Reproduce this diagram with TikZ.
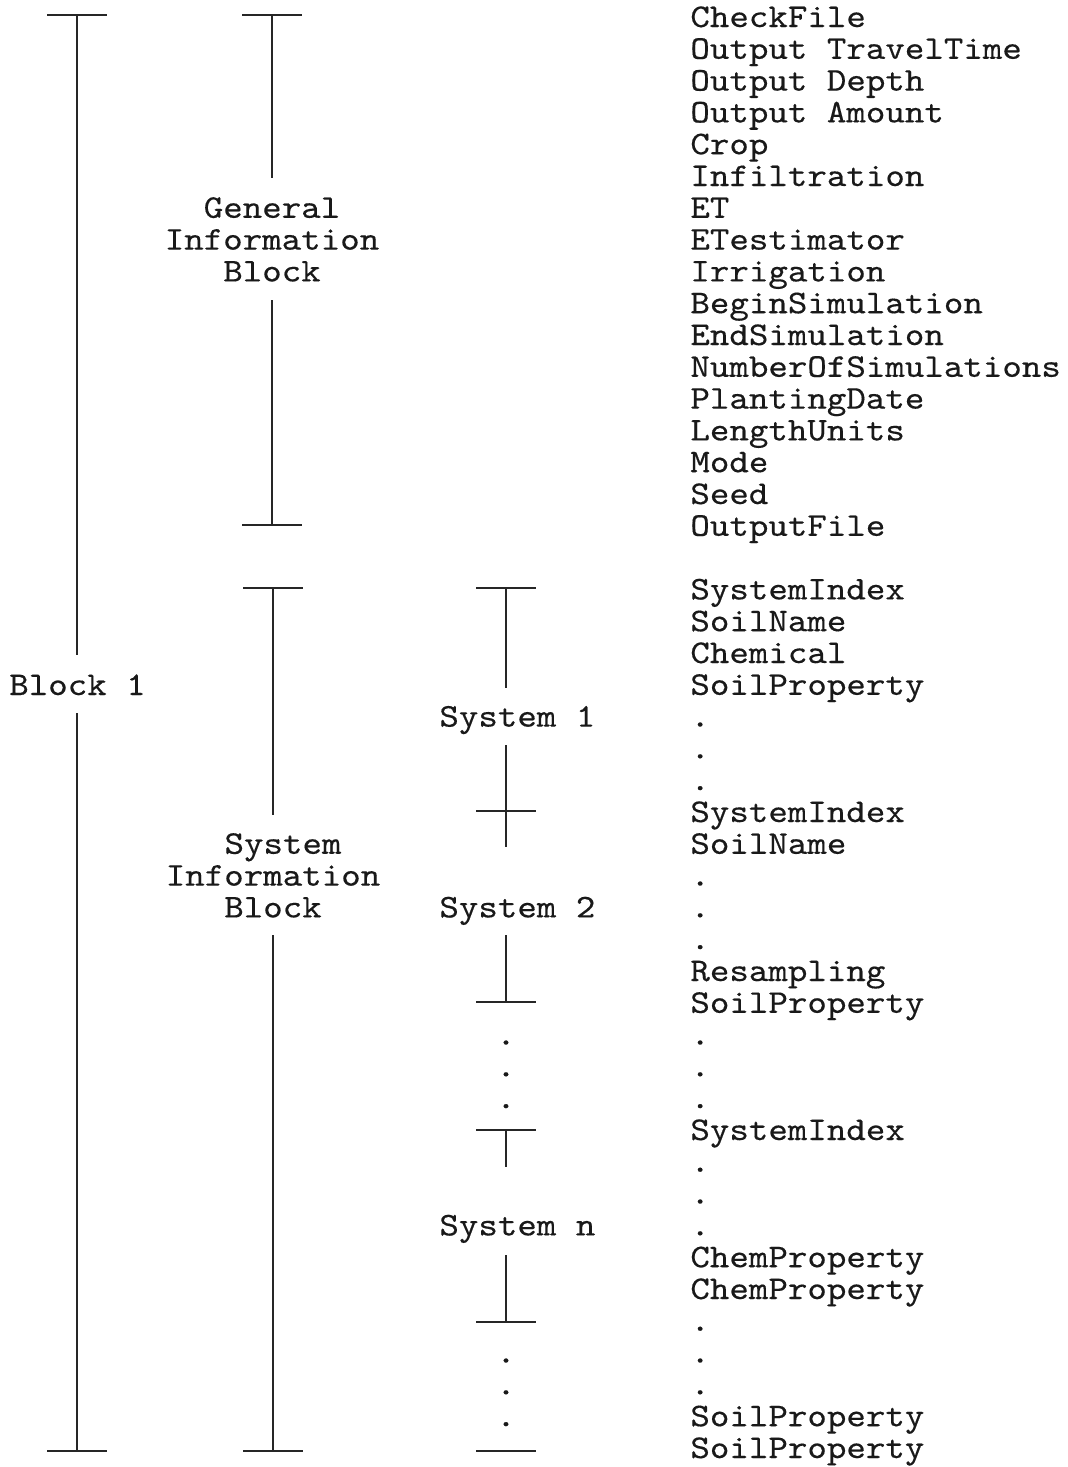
\documentclass[tikz,border=0pt]{standalone}
\usepackage{fontspec}
\newfontfamily\listfont{lmmono10-regular.otf}[FakeBold=0.35, FakeStretch=1.12]
\usetikzlibrary{calc}
\begin{document}
\begin{tikzpicture}[x=0.5pt,y=-0.5pt,
  bar/.style={line width=1.1pt, black!85, line cap=butt},
  txt/.style={font=\listfont\fontsize{16.58pt}{15.9pt}\selectfont, text=black!90,
    inner sep=0pt, text height=8pt, text depth=2pt},
  item/.style={txt, anchor=base west},
  lbl/.style={txt, anchor=base},
  dot/.style={txt, anchor=base},
]
\useasboundingbox (0,0) rectangle (1067,1467);

% tick marks: horizontal cap of half width 30 centred on a named point
\newcommand{\tickat}[1]{\draw[bar] ($(#1)+(-30,0)$) -- ($(#1)+(30,0)$);}

% ---------- right column: keyword listing ----------
\foreach \t [count=\i from 0] in {CheckFile, Output TravelTime, Output Depth,
  Output Amount, Crop, Infiltration, ET, ETestimator, Irrigation,
  BeginSimulation, EndSimulation, NumberOfSimulations, PlantingDate,
  LengthUnits, Mode, Seed, OutputFile}
  \node[item] (g\i) at (690,{27+31.8*\i}) {\t};

\foreach \t [count=\i from 18] in {SystemIndex, SoilName, Chemical,
  SoilProperty, ., ., ., SystemIndex, SoilName, ., ., ., Resampling,
  SoilProperty, ., ., ., SystemIndex, ., ., ., ChemProperty, ChemProperty,
  ., ., ., SoilProperty, SoilProperty}
  \node[item] (s\i) at (690,{27+31.8*\i}) {\t};

% ---------- labels ----------
\node[lbl] (blk1) at (77.5,695) {Block 1};

\node[lbl] (gib1) at (272,217.8) {General};
\node[lbl] (gib2) at (272,249.6) {Information};
\node[lbl] (gib3) at (272,281.4) {Block};

\node[lbl] (sib1) at (283,853.8) {System};
\node[lbl] (sib2) at (273,885.6) {Information};
\node[lbl] (sib3) at (273,917.4) {Block};

\node[item] (sys1) at (439,726.6) {System 1};
\node[item] (sys2) at (439,917.4) {System 2};
\node[item] (sysn) at (439,1235.4) {System n};

% ---------- Block 1 bar ----------
\coordinate (b1t) at (77,15);
\coordinate (b1a) at (77,655);
\coordinate (b1b) at (77,713);
\coordinate (b1e) at (77,1451);
\tickat{b1t}
\draw[bar] (b1t) -- (b1a);
\draw[bar] (b1b) -- (b1e);
\tickat{b1e}

% ---------- General Information Block bar ----------
\coordinate (gt) at (272,15);
\coordinate (ga) at (272,178);
\coordinate (gb) at (272,300);
\coordinate (ge) at (272,525);
\tickat{gt}
\draw[bar] (gt) -- (ga);
\draw[bar] (gb) -- (ge);
\tickat{ge}

% ---------- System Information Block bar ----------
\coordinate (st) at (273,588);
\coordinate (sa) at (273,815);
\coordinate (sb) at (273,935);
\coordinate (se) at (273,1451);
\tickat{st}
\draw[bar] (st) -- (sa);
\draw[bar] (sb) -- (se);
\tickat{se}

% ---------- System 1 ----------
\coordinate (p1t) at (506,588);
\coordinate (p1a) at (506,688);
\coordinate (p1b) at (506,745);
\coordinate (p1e) at (506,811);
\coordinate (p2t) at (506,847);
\tickat{p1t}
\draw[bar] (p1t) -- (p1a);
\draw[bar] (p1b) -- (p2t);
\tickat{p1e}

% ---------- System 2 ----------
\coordinate (p2b) at (506,935);
\coordinate (p2e) at (506,1002);
\draw[bar] (p2b) -- (p2e);
\tickat{p2e}

% dots between systems
\foreach \i in {32,33,34}
  \node[dot] (da\i) at (506,{27+31.8*\i}) {.};

% ---------- System n ----------
\coordinate (pnt) at (506,1130);
\coordinate (pna) at (506,1167);
\coordinate (pnb) at (506,1255);
\coordinate (pne) at (506,1322);
\tickat{pnt}
\draw[bar] (pnt) -- (pna);
\draw[bar] (pnb) -- (pne);
\tickat{pne}

\foreach \i in {42,43,44}
  \node[dot] (db\i) at (506,{27+31.8*\i}) {.};

\coordinate (pz) at (506,1451);
\tickat{pz}
\end{tikzpicture}
\end{document}
